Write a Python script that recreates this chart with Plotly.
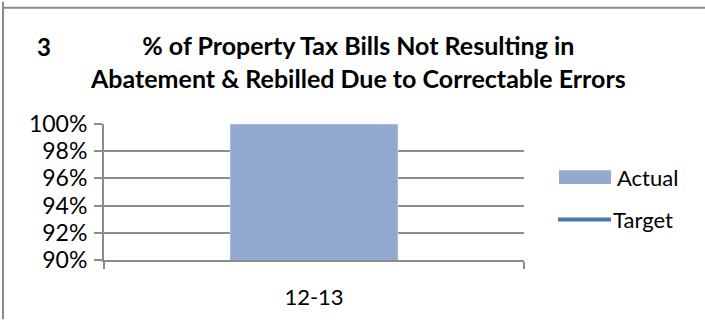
import plotly.graph_objects as go

# chart data
categories = ["12-13"]
actual = [1.00]
target = [1.00]

W, H = 705, 322
L, R, T, B = 104, 524, 124, 262  # plot area in pixels

def px(x):
    return (x - L) / (R - L)

def py(y):
    return (B - y) / (B - T)

bar_color = "#94A9D0"
line_color = "#4A78B0"
grid = "#8C8C8C"
font = "Lato, Calibri, 'Open Sans', sans-serif"

fig = go.Figure()
fig.add_trace(go.Bar(x=categories, y=actual, name="Actual", marker_color=bar_color,
                     width=0.4, showlegend=False))
fig.add_trace(go.Scatter(x=categories, y=target, name="Target", mode="lines",
                         line=dict(color=line_color, width=4), showlegend=False))

fig.update_layout(
    width=W, height=H,
    margin=dict(l=L, r=W - R, t=T, b=H - B, pad=0),
    plot_bgcolor="white", paper_bgcolor="white",
    font=dict(family=font, size=22, color="black"),
)
fig.update_xaxes(
    range=[-0.5, 0.5], showline=True, linecolor=grid, linewidth=2,
    ticks="outside", tickson="boundaries", ticklen=7, tickcolor=grid, tickwidth=1.5,
    ticklabelstandoff=17, tickfont=dict(size=22), showgrid=False,
)
fig.update_yaxes(
    range=[0.9, 1.0], dtick=0.02, tickformat=".0%",
    showline=True, linecolor=grid, linewidth=2,
    showgrid=True, gridcolor=grid, gridwidth=2,
    ticks="outside", ticklen=8, tickcolor=grid, tickwidth=1.5,
    ticklabelstandoff=2, tickfont=dict(size=23), zeroline=False,
)

# title
fig.add_annotation(text="<b>3</b>", x=px(35), y=py(45), xref="paper", yref="paper",
                   xanchor="left", yanchor="middle", showarrow=False,
                   font=dict(size=24))
fig.add_annotation(
    text="<b>% of Property Tax Bills Not Resulting in<br>Abatement &amp; Rebilled Due to Correctable Errors</b>",
    x=px(358), y=py(61), xref="paper", yref="paper", xanchor="center", yanchor="middle",
    showarrow=False, font=dict(size=25), align="center")

# legend drawn by hand
fig.add_shape(type="rect", xref="paper", yref="paper", x0=px(559), x1=px(611),
              y0=py(185), y1=py(171), fillcolor=bar_color, line=dict(width=0))
fig.add_shape(type="line", xref="paper", yref="paper", x0=px(558), x1=px(611),
              y0=py(221), y1=py(221), line=dict(color=line_color, width=4))
fig.add_annotation(text="Actual", x=px(615), y=py(178), xref="paper", yref="paper",
                   xanchor="left", yanchor="middle", showarrow=False, font=dict(size=22))
fig.add_annotation(text="Target", x=px(611), y=py(221), xref="paper", yref="paper",
                   xanchor="left", yanchor="middle", showarrow=False, font=dict(size=22))

# outer frame lines
fig.add_shape(type="line", xref="paper", yref="paper", x0=px(2), x1=px(705),
              y0=py(6), y1=py(6), line=dict(color="#8A8A8A", width=2))
fig.add_shape(type="line", xref="paper", yref="paper", x0=px(3), x1=px(3),
              y0=py(0), y1=py(322), line=dict(color="#8A8A8A", width=2))

fig.write_html("out.html", config={"displayModeBar": False},
               post_script="document.body.style.margin='0';")
